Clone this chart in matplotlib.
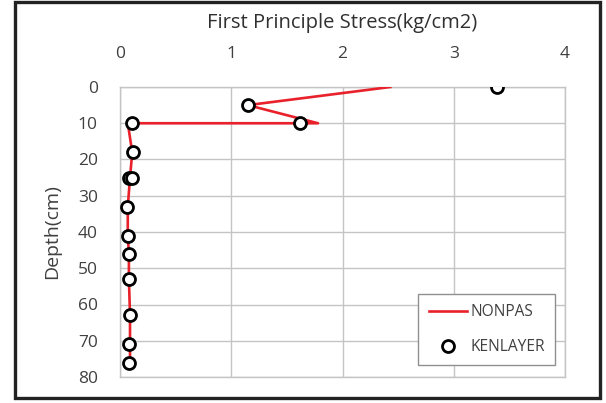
import matplotlib
matplotlib.use("Agg")
import matplotlib.pyplot as plt
from matplotlib.patches import Rectangle

plt.rcParams['font.family'] = ['Open Sans', 'DejaVu Sans']

# NONPAS profile (stress vs depth)
nonpas_stress = [2.43, 1.15, 1.78, 0.07, 0.11, 0.09, 0.07, 0.07, 0.08, 0.08, 0.09, 0.09, 0.09]
nonpas_depth = [0, 5, 10, 10, 18, 25, 33, 41, 46, 53, 63, 71, 76]

# KENLAYER results
ken_stress = [3.39, 1.15, 1.62, 0.11, 0.12, 0.08, 0.11, 0.06, 0.07, 0.08, 0.08, 0.09, 0.08, 0.08]
ken_depth = [0, 5, 10, 10, 18, 25, 25, 33, 41, 46, 53, 63, 71, 76]

x_ticks = [0, 1, 2, 3, 4]
y_ticks = [0, 10, 20, 30, 40, 50, 60, 70, 80]

text_color = '#404040'
grid_color = '#c4c4c4'

fig = plt.figure(figsize=(6.06, 4.03), dpi=100)
ax = fig.add_axes([120/606, 1-377/403, 445/606, 290/403])

ax.plot(nonpas_stress, nonpas_depth, color='#e8212b', lw=1.9, label='NONPAS', zorder=3)
ax.plot(ken_stress, ken_depth, ls='none', marker='o', ms=8.6, mfc='white', mec='black',
        mew=2.0, label='KENLAYER', zorder=4)

ax.set_xlim(0, 4)
ax.set_ylim(80, 0)
ax.set_xticks(x_ticks)
ax.set_yticks(y_ticks)
ax.xaxis.tick_top()
ax.xaxis.set_label_position('top')
ax.tick_params(axis='both', length=0, labelsize=12.5, colors=text_color)
ax.tick_params(axis='x', pad=18)
ax.tick_params(axis='y', pad=16)
ax.grid(True, color=grid_color, lw=1.0)
ax.set_axisbelow(True)
for s in ax.spines.values():
    s.set_color(grid_color)
    s.set_linewidth(1.0)

ax.set_xlabel('First Principle Stress(kg/cm2)', fontsize=14.5, color='#303030', labelpad=13)
ax.set_ylabel('Depth(cm)', fontsize=14, color=text_color, labelpad=12)

leg = ax.legend(loc='lower right', bbox_to_anchor=(0.978, 0.041), borderaxespad=0,
                fontsize=11.2, frameon=True, fancybox=False, framealpha=1,
                edgecolor='#909090', handlelength=2.5, handletextpad=0.2,
                labelspacing=1.2, borderpad=0.65, labelcolor=text_color)
leg.get_frame().set_linewidth(1.0)

# outer frame around the whole chart
fig.patches.append(Rectangle((15/606, 1-398/403), 585/606, 396/403,
                             transform=fig.transFigure, fill=False,
                             edgecolor='#222222', lw=2.4))

fig.savefig('out.png', dpi=100)
